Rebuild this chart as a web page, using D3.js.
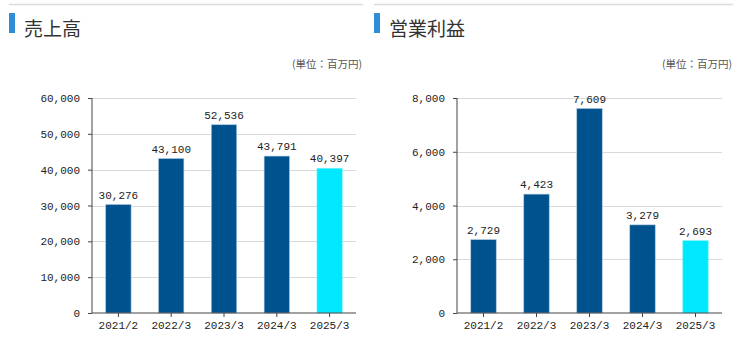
<!DOCTYPE html>
<html><head><meta charset="utf-8">
<script src="https://cdn.jsdelivr.net/npm/d3@7"></script>
<style>body{margin:0;background:#fff}svg{display:block}</style>
</head><body>
<svg id="c" width="733" height="342"></svg>
<script>
const categories = ["2021/2","2022/3","2023/3","2024/3","2025/3"];
const salesValues = [30276, 43100, 52536, 43791, 40397];
const profitValues = [2729, 4423, 7609, 3279, 2693];
const salesTicks = [0,10000,20000,30000,40000,50000,60000];
const profitTicks = [0,2000,4000,6000,8000];
const titles = ["売上高","営業利益"];
const unitLabel = "(単位：百万円)";
const barColors = ["#00528f","#00528f","#00528f","#00528f","#00e8ff"];

const svg = d3.select("#c");
const fmt = d3.format(",");
const mono = "'Liberation Mono','DejaVu Sans Mono',monospace";
const jp = "'Noto Sans CJK JP','Noto Sans',sans-serif";

function panel(px, lineEnd, title, values, ticks, axisX, axisRight){
  const g = svg.append("g");
  g.append("line").attr("x1",px).attr("x2",lineEnd).attr("y1",4.5).attr("y2",4.5).attr("stroke","#dcdcdc").attr("stroke-width",1.5);
  g.append("rect").attr("x",px).attr("y",13).attr("width",6).attr("height",20).attr("fill","#2f8dd6");
  g.append("text").attr("x",px+15).attr("y",36).attr("font-family",jp).attr("font-size",19).attr("fill","#333").text(title);
  g.append("text").attr("x",lineEnd-1).attr("y",68).attr("text-anchor","end").attr("font-family",jp).attr("font-size",10.5).attr("fill","#555").text(unitLabel);

  const y = d3.scaleLinear().domain([0, ticks[ticks.length-1]]).range([313, 98]);
  const x = d3.scaleBand().domain(categories).range([axisX, axisRight]).paddingInner(0.52).paddingOuter(0.26);

  // gridlines
  g.append("g").selectAll("line").data(ticks.filter(t=>t>0)).join("line")
    .attr("x1",axisX).attr("x2",axisRight).attr("y1",d=>Math.round(y(d))+0.5).attr("y2",d=>Math.round(y(d))+0.5)
    .attr("stroke","#d9d9d9").attr("stroke-width",1.2);

  // bars
  g.append("g").selectAll("rect").data(values).join("rect")
    .attr("x",(d,i)=>x(categories[i])).attr("width",x.bandwidth())
    .attr("y",d=>y(d)).attr("height",d=>y(0)-y(d))
    .attr("fill",(d,i)=>barColors[i]).attr("stroke",(d,i)=>i===4?"#7ff2ff":"#a9c4dc").attr("stroke-width",0.6);

  // value labels
  g.append("g").selectAll("text").data(values).join("text")
    .attr("x",(d,i)=>x(categories[i])+x.bandwidth()/2).attr("y",d=>y(d)-6)
    .attr("text-anchor","middle").attr("font-family",mono).attr("font-size",11).attr("fill","#222")
    .text(d=>fmt(d));

  // y axis
  const ya = g.append("g").attr("transform",`translate(${axisX},0)`)
    .call(d3.axisLeft(y).tickValues(ticks).tickFormat(fmt).tickSize(4).tickPadding(8));
  ya.select(".domain").attr("stroke","#444").attr("d",`M0,${y(ticks[ticks.length-1])}V${y(0)}`);
  ya.selectAll(".tick line").attr("stroke","#444");
  ya.selectAll("text").attr("font-family",mono).attr("font-size",11).attr("fill","#222");

  // x axis
  const xa = g.append("g").attr("transform",`translate(0,${y(0)})`)
    .call(d3.axisBottom(x).tickSize(4).tickPadding(4));
  xa.select(".domain").attr("stroke","#444").attr("d",`M${axisX},0H${axisRight}`);
  xa.selectAll(".tick line").attr("stroke","#444");
  xa.selectAll("text").attr("font-family",mono).attr("font-size",11).attr("fill","#222");
}

panel(9, 363, titles[0], salesValues, salesTicks, 92, 356);
panel(374, 733, titles[1], profitValues, profitTicks, 457, 722);
</script>
</body></html>
